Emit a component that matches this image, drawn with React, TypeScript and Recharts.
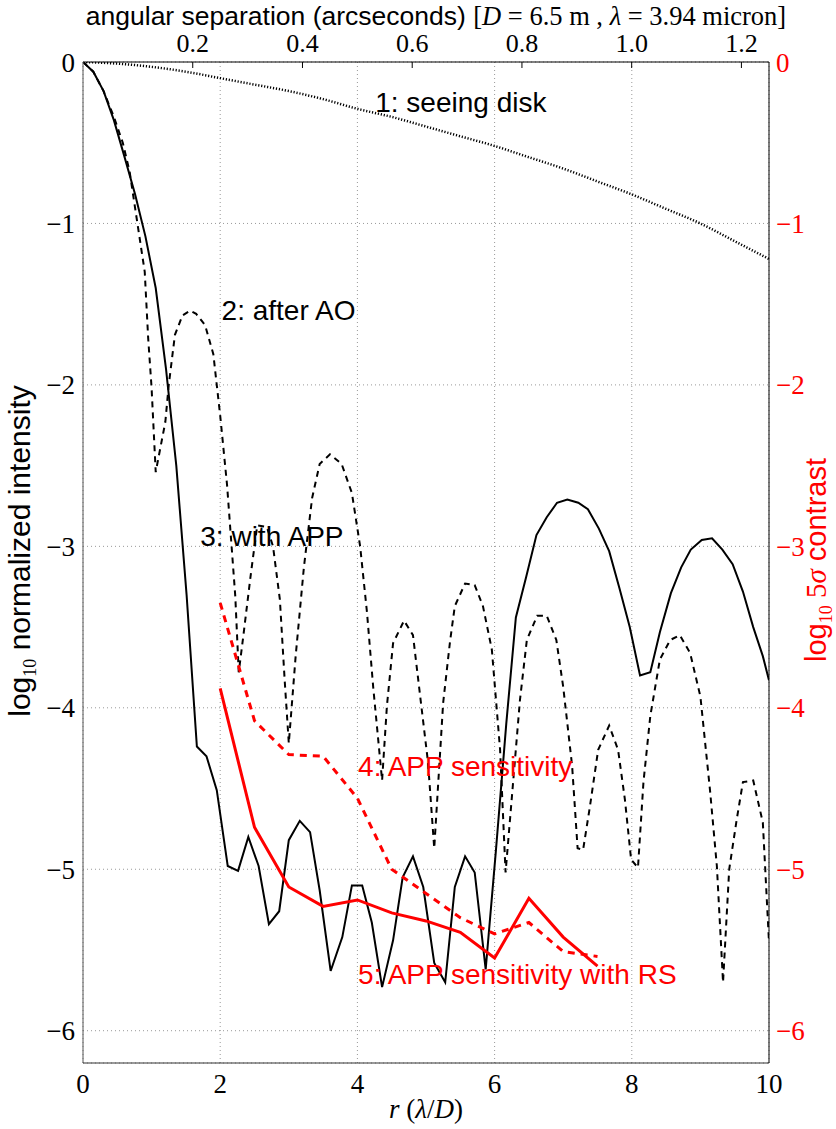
import { ComposedChart, Line, XAxis, YAxis, CartesianGrid, ReferenceDot, Customized } from "recharts";

// r in lambda/D, values in log10
const seeingR = [0, 0.5, 1, 1.5, 2, 2.5, 3, 3.5, 4, 4.5, 5, 5.5, 6, 6.5, 7, 7.5, 8, 8.5, 9, 9.5, 10];
const seeingV = [0, -0.01, -0.03, -0.06, -0.1, -0.14, -0.18, -0.23, -0.29, -0.34, -0.4, -0.46, -0.52, -0.59, -0.66, -0.74, -0.82, -0.91, -1.0, -1.11, -1.22];

const aoR = [0, 0.15, 0.3, 0.45, 0.58, 0.68, 0.79, 0.9, 0.95, 1.0, 1.06, 1.2, 1.25, 1.34, 1.45, 1.56, 1.65, 1.78, 1.9, 2.0, 2.1, 2.22, 2.27, 2.33, 2.45, 2.54, 2.68, 2.77, 2.87, 2.94, 3.0, 3.1, 3.22, 3.34, 3.45, 3.6, 3.77, 3.92, 4.04, 4.14, 4.23, 4.36, 4.43, 4.52, 4.68, 4.81, 4.91, 5.03, 5.12, 5.25, 5.35, 5.42, 5.57, 5.71, 5.83, 5.96, 6.08, 6.16, 6.27, 6.37, 6.47, 6.62, 6.76, 6.9, 7.0, 7.13, 7.21, 7.29, 7.39, 7.51, 7.67, 7.8, 7.9, 7.99, 8.09, 8.17, 8.27, 8.41, 8.56, 8.7, 8.85, 9.0, 9.14, 9.24, 9.33, 9.42, 9.53, 9.62, 9.77, 9.91, 10];
const aoV = [0, -0.06, -0.18, -0.34, -0.5, -0.68, -0.99, -1.3, -1.71, -2.02, -2.54, -2.23, -2.0, -1.69, -1.57, -1.54, -1.56, -1.63, -1.81, -2.19, -2.62, -3.31, -3.78, -3.58, -3.16, -2.87, -2.88, -3.0, -3.33, -3.83, -4.22, -3.68, -3.13, -2.7, -2.49, -2.43, -2.49, -2.67, -3.0, -3.41, -3.87, -4.45, -3.99, -3.6, -3.46, -3.55, -3.91, -4.34, -4.87, -3.97, -3.59, -3.37, -3.23, -3.24, -3.37, -3.64, -4.26, -5.02, -4.46, -3.95, -3.58, -3.43, -3.43, -3.58, -3.87, -4.36, -4.87, -4.88, -4.61, -4.26, -4.11, -4.26, -4.57, -4.94, -4.99, -4.46, -4.05, -3.7, -3.58, -3.55, -3.66, -3.93, -4.51, -4.98, -5.7, -5.0, -4.69, -4.46, -4.45, -4.71, -5.45];

const appR = [0, 0.15, 0.3, 0.45, 0.6, 0.76, 0.91, 1.06, 1.21, 1.36, 1.51, 1.66, 1.8, 1.95, 2.11, 2.26, 2.41, 2.56, 2.71, 2.86, 3.0, 3.16, 3.31, 3.45, 3.61, 3.78, 3.92, 4.07, 4.21, 4.36, 4.52, 4.66, 4.81, 4.96, 5.12, 5.28, 5.42, 5.57, 5.71, 5.87, 6.02, 6.17, 6.31, 6.46, 6.61, 6.76, 6.91, 7.06, 7.22, 7.36, 7.52, 7.67, 7.82, 7.97, 8.12, 8.27, 8.41, 8.57, 8.72, 8.86, 9.02, 9.17, 9.32, 9.47, 9.62, 9.77, 9.91, 10];
const appV = [0, -0.06, -0.18, -0.36, -0.58, -0.82, -1.08, -1.4, -1.9, -2.5, -3.3, -4.24, -4.3, -4.51, -4.98, -5.01, -4.8, -4.98, -5.34, -5.26, -4.82, -4.7, -4.77, -5.13, -5.63, -5.42, -5.1, -5.1, -5.33, -5.73, -5.44, -5.05, -4.92, -5.11, -5.58, -5.7, -5.11, -4.92, -5.02, -5.62, -4.88, -4.1, -3.44, -3.19, -2.93, -2.82, -2.73, -2.71, -2.73, -2.77, -2.89, -3.03, -3.26, -3.5, -3.8, -3.78, -3.53, -3.29, -3.13, -3.02, -2.96, -2.95, -3.02, -3.11, -3.28, -3.5, -3.68, -3.83];

const sensR = [2, 2.5, 3, 3.5, 4, 4.5, 5, 5.5, 6, 6.5, 7, 7.5];
const sensV = [-3.35, -4.08, -4.29, -4.3, -4.56, -5.0, -5.15, -5.3, -5.4, -5.33, -5.51, -5.54];
const sensRsV = [-3.88, -4.74, -5.11, -5.23, -5.19, -5.27, -5.32, -5.39, -5.55, -5.18, -5.42, -5.6];

const rTicks = [0, 2, 4, 6, 8, 10];
const logTicks = [0, -1, -2, -3, -4, -5, -6];
const arcsecTicks = [0.2, 0.4, 0.6, 0.8, 1.0, 1.2];
const arcsecPerLD = (3.94e-6 / 6.5) * 206265;

const zip = (rs: number[], vs: number[]) => rs.map((r, i) => ({ r, v: vs[i] }));
const fmt = (v: number) => (v < 0 ? `\u2212${Math.abs(v)}` : `${v}`);

const SANS = "Liberation Sans";
const SERIF = "Liberation Serif";

const notes = [
  { r: 4.26, v: -0.31, text: "1: seeing disk", color: "#000" },
  { r: 2.02, v: -1.6, text: "2: after AO", color: "#000" },
  { r: 1.71, v: -3.0, text: "3: with APP", color: "#000" },
  { r: 4.01, v: -4.42, text: "4: APP sensitivity", color: "#ff0000" },
  { r: 4.01, v: -5.71, text: "5: APP sensitivity with RS", color: "#ff0000" },
];

const Titles = () => (
  <g>
    <text x={436} y={25} textAnchor="middle" fontSize={26.5} fontFamily={SANS}>
      angular separation (arcseconds){" "}
      <tspan fontFamily={SERIF}>
        [<tspan fontStyle="italic">D</tspan> = 6.5 m , <tspan fontStyle="italic">λ</tspan> = 3.94 micron]
      </tspan>
    </text>
    <text x={426} y={1118} textAnchor="middle" fontSize={27} fontFamily={SERIF}>
      <tspan fontStyle="italic">r</tspan> (<tspan fontStyle="italic">λ</tspan>/<tspan fontStyle="italic">D</tspan>)
    </text>
    <text transform="translate(30,551) rotate(-90)" textAnchor="middle" fontSize={30} fontFamily={SANS}>
      log<tspan fontFamily={SERIF} fontSize={18} dy={6}>10</tspan>
      <tspan dy={-6}> normalized intensity</tspan>
    </text>
    <text transform="translate(826,560) rotate(-90)" textAnchor="middle" fontSize={29} fontFamily={SANS} fill="#ff0000">
      log<tspan fontFamily={SERIF} fontSize={18} dy={6}>10</tspan>
      <tspan dy={-6} fontFamily={SERIF}> 5<tspan fontStyle="italic">σ</tspan></tspan>
      <tspan> contrast</tspan>
    </text>
  </g>
);

const App = () => {
  return (
    <div style={{ position: "absolute", left: 0, top: 0, background: "#fff" }}>
      <ComposedChart width={836} height={1129} margin={{ top: 22, right: 7, bottom: 26, left: 13 }}>
        <CartesianGrid xAxisId="bottom" yAxisId="left" stroke="#999" strokeDasharray="1 3" />
        <XAxis
          xAxisId="bottom"
          dataKey="r"
          type="number"
          domain={[0, 10]}
          ticks={rTicks}
          height={40}
          tickLine={false}
          tickSize={5}
          tickMargin={6}
          stroke="#333"
          tick={{ fill: "#000", fontSize: 27, fontFamily: SERIF }}
          allowDataOverflow
        />
        <XAxis
          xAxisId="top"
          orientation="top"
          dataKey="r"
          type="number"
          domain={[0, 10]}
          ticks={arcsecTicks.map((a) => a / arcsecPerLD)}
          tickFormatter={(v: number) => (v * arcsecPerLD).toFixed(1)}
          height={40}
          tickLine={{ stroke: "#000", strokeWidth: 1 }}
          tickSize={-6}
          tickMargin={16}
          stroke="#000"
          tick={{ fill: "#000", fontSize: 26, fontFamily: SERIF }}
          allowDataOverflow
        />
        <YAxis
          yAxisId="left"
          type="number"
          domain={[-6.2, 0]}
          ticks={logTicks}
          tickFormatter={fmt}
          width={70}
          tickLine={false}
          tickSize={4}
          tickMargin={4}
          stroke="#555"
          tick={{ fill: "#000", fontSize: 27, fontFamily: SERIF }}
          allowDataOverflow
        />
        <YAxis
          yAxisId="right"
          orientation="right"
          type="number"
          domain={[-6.2, 0]}
          ticks={logTicks}
          tickFormatter={fmt}
          width={60}
          tickLine={false}
          tickSize={3}
          tickMargin={4}
          stroke="#000"
          tick={{ fill: "#ff0000", fontSize: 27, fontFamily: SERIF, textAnchor: "start" }}
          allowDataOverflow
        />
        <Line
          xAxisId="top"
          yAxisId="left"
          data={zip(seeingR, seeingV)}
          dataKey="v"
          type="monotone"
          stroke="#000"
          strokeWidth={2.5}
          strokeDasharray="1.2 1.8"
          dot={false}
          isAnimationActive={false}
        />
        <Line
          xAxisId="bottom"
          yAxisId="left"
          data={zip(aoR, aoV)}
          dataKey="v"
          type="linear"
          stroke="#000"
          strokeWidth={2}
          strokeDasharray="6 5"
          dot={false}
          isAnimationActive={false}
        />
        <Line
          xAxisId="bottom"
          yAxisId="left"
          data={zip(appR, appV)}
          dataKey="v"
          type="linear"
          stroke="#000"
          strokeWidth={2}
          dot={false}
          isAnimationActive={false}
        />
        <Line
          xAxisId="bottom"
          yAxisId="right"
          data={zip(sensR, sensV)}
          dataKey="v"
          type="linear"
          stroke="#ff0000"
          strokeWidth={3}
          strokeDasharray="7 6"
          dot={false}
          isAnimationActive={false}
        />
        <Line
          xAxisId="bottom"
          yAxisId="right"
          data={zip(sensR, sensRsV)}
          dataKey="v"
          type="linear"
          stroke="#ff0000"
          strokeWidth={3}
          dot={false}
          isAnimationActive={false}
        />
        {notes.map((n) => (
          <ReferenceDot
            key={n.text}
            xAxisId="bottom"
            yAxisId="left"
            x={n.r}
            y={n.v}
            r={0}
            fill="none"
            stroke="none"
            label={(p: any) => (
              <text x={p.viewBox.x} y={p.viewBox.y} fill={n.color} fontSize={28} fontFamily={SANS} textAnchor="start">
                {n.text}
              </text>
            )}
          />
        ))}
        <Customized component={Titles} />
      </ComposedChart>
    </div>
  );
};

export default App;
